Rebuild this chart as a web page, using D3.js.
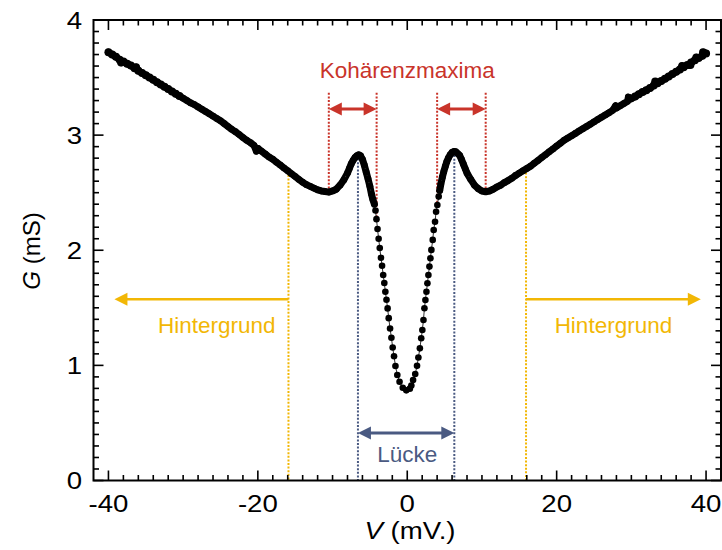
<!DOCTYPE html>
<html><head><meta charset="utf-8">
<script src="https://cdn.jsdelivr.net/npm/d3@7"></script>
<style>body{margin:0;background:#fff}svg{display:block}text{font-family:"Liberation Sans",Arial,sans-serif}</style>
</head><body>
<svg id="c" width="722" height="550"></svg>
<script>
// Bias voltage (mV)
const V = [
-40,-39.5,-39,-38.5,-38.3,-38,-37.5,-37,-36.5,-36.3,-36,-35.5,-35,-34.5,-34,-33.5,-33,-32.5,-32,-31.5,-31,-30.5,-30,
-29.5,-29,-28.5,-28,-27.5,-27,-26.5,-26,-25.5,-25,-24.5,-24,-23.5,-23,-22.5,-22,-21.5,-21,-20.5,-20.2,-20,
-19.5,-19,-18.5,-18,-17.5,-17,-16.5,-16,-15.5,-15,-14.5,-14,-13.5,-13,-12.5,-12,-11.5,-11,-10.5,-10,
-9.5,-9,-8.5,-8,-7.75,-7.5,-7.25,-7,-6.75,-6.5,-6.25,-6,-5.75,-5.5,-5.25,-5,-4.8,-4.6,-4.4,
-4.25,-4.12,-3.98,-3.83,-3.68,-3.52,-3.37,-3.22,-3.07,-2.93,-2.78,-2.63,-2.48,-2.3,-2.12,-1.95,-1.77,-1.58,-1.33,-1.03,-0.6,-0.13,
0.35,0.55,0.78,1.07,1.31,1.49,1.69,1.87,2.02,2.17,2.3,2.43,2.57,2.7,2.83,2.97,3.1,3.23,3.41,3.54,3.72,3.86,4.03,4.21,
4.35,4.5,4.7,4.9,5.1,5.3,5.5,5.75,6,6.25,6.5,6.75,7,7.25,7.5,7.75,8,8.5,9,9.5,10,10.5,11,11.5,12,12.5,13,13.5,14,14.5,15,15.5,16,
16.5,17,17.5,18,18.5,19,19.5,20,20.5,21,21.5,22,22.5,23,23.5,24,24.5,25,25.5,26,26.5,27,27.5,27.9,28,28.5,29,29.5,29.6,30,
30.5,31,31.5,32,32.5,33,33.2,33.5,34,34.5,35,35.5,36,36.5,36.8,37,37.5,37.9,38,38.5,38.7,39,39.5,39.6,40
];
// Differential conductance (mS)
const G = [
3.72,3.70,3.68,3.655,3.63,3.64,3.62,3.605,3.58,3.59,3.56,3.54,3.52,3.50,3.48,3.46,3.44,3.42,3.40,3.38,3.36,3.34,3.32,
3.30,3.28,3.265,3.245,3.225,3.205,3.185,3.165,3.145,3.125,3.10,3.075,3.05,3.03,3.005,2.98,2.955,2.935,2.91,2.86,2.885,
2.86,2.835,2.81,2.79,2.765,2.74,2.715,2.69,2.665,2.64,2.615,2.59,2.57,2.555,2.54,2.525,2.515,2.51,2.505,2.515,
2.53,2.565,2.61,2.67,2.71,2.75,2.78,2.805,2.82,2.83,2.82,2.79,2.74,2.68,2.62,2.555,2.49,2.44,2.40,
2.345,2.27,2.185,2.10,2.02,1.935,1.865,1.785,1.715,1.64,1.57,1.495,1.41,1.32,1.24,1.155,1.079,0.995,0.917,0.858,0.805,0.783,
0.798,0.825,0.873,0.925,0.996,1.069,1.148,1.235,1.307,1.394,1.496,1.568,1.64,1.713,1.785,1.858,1.93,2.003,2.09,2.176,2.248,2.335,2.393,2.466,
2.52,2.575,2.635,2.685,2.73,2.77,2.80,2.83,2.85,2.857,2.855,2.84,2.825,2.79,2.75,2.71,2.67,2.615,2.565,2.535,2.515,2.508,2.515,2.53,2.55,2.565,2.587,2.605,2.625,2.65,2.67,2.69,2.71,
2.73,2.755,2.78,2.805,2.83,2.855,2.88,2.905,2.93,2.955,2.975,2.995,3.015,3.035,3.055,3.075,3.095,3.115,3.135,3.155,3.175,3.195,3.215,3.255,3.235,3.255,3.275,3.295,3.33,3.315,
3.335,3.355,3.375,3.39,3.41,3.43,3.465,3.45,3.47,3.49,3.51,3.53,3.55,3.57,3.60,3.59,3.61,3.61,3.63,3.65,3.675,3.67,3.69,3.72,3.71
];
const xTicks = [-40,-20,0,20,40];
const xTickLabels = ["-40","-20","0","20","40"];
const yTicks = [0,1,2,3,4];
const yTickLabels = ["0","1","2","3","4"];
// annotation positions (data units)
const coherenceV = [-10.5,-4.1,4.0,10.5];
const gapV = [-6.6,6.3];
const backgroundV = [-15.9,15.9];
const backgroundArrowEnds = [-39.2,39.3];

const svg = d3.select("#c");
const x = d3.scaleLinear().domain([-42,42]).range([93.5,721]);
const y = d3.scaleLinear().domain([0,4]).range([480.5,20]);

const RED="#c9342a", BLUE="#4a5a82", YEL="#f2b705";
const curveAt = v => {
  const i = d3.bisector(d=>d).left(V, v);
  if (i<=0) return G[0];
  const t=(v-V[i-1])/(V[i]-V[i-1]);
  return G[i-1]+t*(G[i]-G[i-1]);
};

// dotted guide lines
function vdot(v, g1, g2, col){
  svg.append("line").attr("x1",x(v)).attr("x2",x(v)).attr("y1",y(g1)).attr("y2",y(g2))
    .attr("stroke",col).attr("stroke-width",2).attr("stroke-dasharray","2,1.6");
}
coherenceV.forEach(v=>vdot(v,3.367,curveAt(v),RED));
gapV.forEach(v=>vdot(v,curveAt(v)-0.03,0,BLUE));
backgroundV.forEach(v=>vdot(v,curveAt(v),0,YEL));

// arrows
function head(xt, yy, dir, col, hl, hw){
  svg.append("path").attr("d",`M${xt},${yy}L${xt-dir*hl},${yy-hw}L${xt-dir*hl},${yy+hw}Z`).attr("fill",col);
}
function arrow(v1, v2, g, col, both, lw){
  const x1=x(v1), x2=x(v2), yy=y(g), hl=13, hw=6.5;
  const dir = x2 > x1 ? 1 : -1;
  const a = both ? x1+dir*(hl-1) : x1;
  svg.append("line").attr("x1",a).attr("x2",x2-dir*(hl-1)).attr("y1",yy).attr("y2",yy)
    .attr("stroke",col).attr("stroke-width",lw);
  head(x2, yy, dir, col, hl, hw);
  if(both) head(x1, yy, -dir, col, hl, hw);
}
arrow(coherenceV[0],coherenceV[1],3.227,RED,true,3);
arrow(coherenceV[2],coherenceV[3],3.227,RED,true,3);
arrow(gapV[0],gapV[1],0.413,BLUE,true,3);
arrow(backgroundV[0],backgroundArrowEnds[0],1.574,YEL,false,2.5);
arrow(backgroundV[1],backgroundArrowEnds[1],1.574,YEL,false,2.5);

// annotation labels
svg.append("text").attr("x",x(0)).attr("y",y(3.497)).attr("text-anchor","middle")
  .attr("font-size",22.5).attr("fill",RED).text("Kohärenzmaxima");
svg.append("text").attr("x",x(0)).attr("y",y(0.158)).attr("text-anchor","middle")
  .attr("font-size",22.5).attr("fill",BLUE).text("Lücke");
svg.append("text").attr("x",x(-25.5)).attr("y",y(1.281)).attr("text-anchor","middle")
  .attr("font-size",22.5).attr("fill",YEL).text("Hintergrund");
svg.append("text").attr("x",x(27.6)).attr("y",y(1.281)).attr("text-anchor","middle")
  .attr("font-size",22.5).attr("fill",YEL).text("Hintergrund");

// data
const pts = V.map((v,i)=>[v,G[i]]);
const line = d3.line().x(d=>x(d[0])).y(d=>y(d[1]));
// dense outer parts where the measured points merge into a band
svg.append("path").attr("d",line(pts.filter(d=>d[0]<=-4.4)))
  .attr("fill","none").attr("stroke","#000").attr("stroke-width",7).attr("stroke-linejoin","round").attr("stroke-linecap","round");
svg.append("path").attr("d",line(pts.filter(d=>d[0]>=4.35)))
  .attr("fill","none").attr("stroke","#000").attr("stroke-width",7).attr("stroke-linejoin","round").attr("stroke-linecap","round");
svg.append("path").attr("d",line(pts))
  .attr("fill","none").attr("stroke","#333").attr("stroke-width",1);
svg.append("g").selectAll("circle").data(pts).join("circle")
  .attr("cx",d=>x(d[0])).attr("cy",d=>y(d[1])).attr("r",d=>Math.abs(d[0])>30?4:3.3).attr("fill","#000");

// frame and ticks
const fr = svg.append("g").attr("stroke","#000");
fr.append("rect").attr("x",93.5).attr("y",20).attr("width",721-93.5).attr("height",460.5)
  .attr("fill","none").attr("stroke-width",2);
const xMinor = d3.range(-40,41,2), yMinor = d3.range(0,4.001,0.1);
xMinor.forEach(v=>{
  const L = xTicks.includes(v)?10:5.5;
  fr.append("line").attr("x1",x(v)).attr("x2",x(v)).attr("y1",480.5).attr("y2",480.5-L).attr("stroke-width",1.6);
  fr.append("line").attr("x1",x(v)).attr("x2",x(v)).attr("y1",20).attr("y2",20+L).attr("stroke-width",1.6);
});
yMinor.forEach(g=>{
  const major = Math.abs(g-Math.round(g))<1e-6;
  const L = major?10:5.5;
  fr.append("line").attr("x1",93.5).attr("x2",93.5+L).attr("y1",y(g)).attr("y2",y(g)).attr("stroke-width",1.6);
  fr.append("line").attr("x1",721).attr("x2",721-L).attr("y1",y(g)).attr("y2",y(g)).attr("stroke-width",1.6);
});

// tick labels
xTicks.forEach((v,i)=>{
  svg.append("text").attr("transform",`translate(${x(v)},512) scale(1.15,1)`)
    .attr("text-anchor","middle").attr("font-size",24).text(xTickLabels[i]);
});
yTicks.forEach((g,i)=>{
  svg.append("text").attr("transform",`translate(82,${y(g)+8.5}) scale(1.15,1)`)
    .attr("text-anchor","end").attr("font-size",24).text(yTickLabels[i]);
});

// axis titles
const xl = svg.append("text").attr("transform","translate(410,539) scale(1.15,1)")
  .attr("text-anchor","middle").attr("font-size",24);
xl.append("tspan").attr("font-style","italic").text("V");
xl.append("tspan").text(" (mV.)");
const yl = svg.append("text").attr("transform","translate(40,251) rotate(-90)")
  .attr("text-anchor","middle").attr("font-size",24);
yl.append("tspan").attr("font-style","italic").text("G");
yl.append("tspan").text(" (mS)");
</script>
</body></html>
